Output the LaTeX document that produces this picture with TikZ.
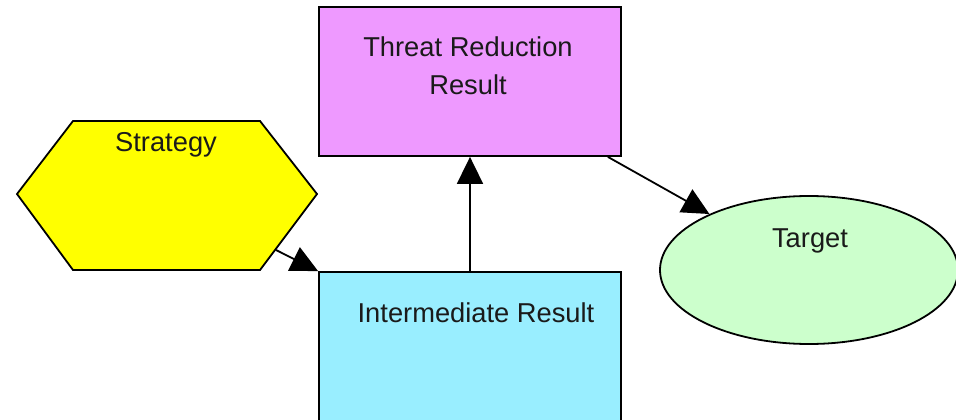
\documentclass[tikz,border=0pt]{standalone}
\usepackage{fontspec}
\setmainfont{Liberation Sans}
\usetikzlibrary{arrows.meta,shapes.geometric}
\definecolor{hexyellow}{HTML}{FFFF00}
\definecolor{trpurple}{HTML}{EE99FF}
\definecolor{ircyan}{HTML}{99EEFF}
\definecolor{tggreen}{HTML}{CCFFCC}
\definecolor{txtcol}{HTML}{1A1A1A}
\begin{document}
\begin{tikzpicture}[x=1pt,y=-1pt,
  box/.style={draw=black, line width=1.8pt, inner sep=0pt},
  lbl/.style={font=\fontsize{27.3}{37}\selectfont, text=txtcol, anchor=base, inner sep=0pt},
  arr/.style={line width=1.8pt, -{Triangle[length=27pt,width=26pt]}}]
\useasboundingbox (0,0) rectangle (956,420);
\clip (0,0) rectangle (956,420);
\fill[white] (0,0) rectangle (956,420);
% shapes
\draw[box, fill=hexyellow] (17,194) -- (73,121) -- (260,121) -- (317,194) -- (260,270) -- (73,270) -- cycle;
\coordinate (hexout) at (276,250);
\node[box, fill=trpurple, minimum width=302pt, minimum height=149pt] (tr) at (470,81.5) {};
\node[box, fill=ircyan, minimum width=302pt, minimum height=200pt] (ir) at (470,372) {};
\node[box, ellipse, fill=tggreen, minimum width=298pt, minimum height=148pt] (tg) at (809,270) {};
% labels
\node[lbl] (lstr) at (166,151) {Strategy};
\node[lbl] (ltra) at (468,57) {Threat Reduction};
\node[lbl] (ltrb) at (468,94) {Result};
\node[lbl] (lir) at (476,322) {Intermediate Result};
\node[lbl] (ltg) at (810,247) {Target};
% connectors
\draw[arr] (hexout) -- (ir.north west);
\draw[arr] (ir.north) -- (tr.south);
\draw[arr] ([xshift=-14pt]tr.south east) -- (tg);
\end{tikzpicture}
\end{document}
